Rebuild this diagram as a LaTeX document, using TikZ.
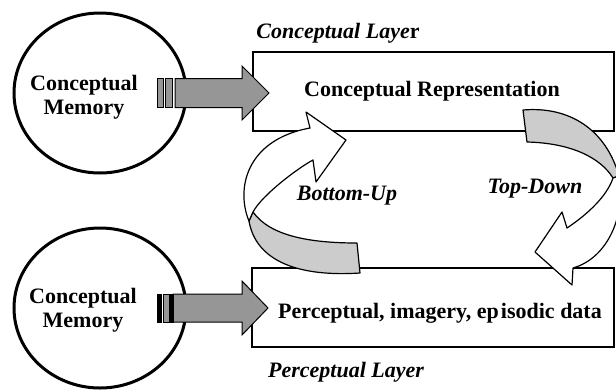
\documentclass[tikz,border=0pt]{standalone}
\usepackage{fontspec}
\setmainfont{Liberation Serif}
\usetikzlibrary{shapes.geometric}
\definecolor{blockgray}{RGB}{150,150,150}
\definecolor{ribbongray}{RGB}{204,204,204}
\tikzset{
  memory/.style={ellipse, draw, line width=3pt, minimum width=172pt, minimum height=160pt, inner sep=0pt},
  layerbox/.style={rectangle, draw, line width=2pt, inner sep=0pt},
  boldtext/.style={font=\fontsize{22}{24}\selectfont\bfseries, align=center, inner sep=0pt},
  italtext/.style={font=\fontsize{22}{24}\selectfont\bfseries\itshape, inner sep=0pt},
  blockbody/.style={draw, fill=blockgray, line width=1pt, line join=miter},
  blockbar/.style={draw, fill=black, line width=0.6pt},
  ribbonfront/.style={draw, fill=white, line width=1.2pt, line join=round},
  ribbonback/.style={draw, fill=ribbongray, line width=1.2pt, line join=round},
}
\begin{document}
\begin{tikzpicture}[x=1pt,y=-1pt]
\useasboundingbox (0,0) rectangle (616,389);

% layer boxes
\node[layerbox, minimum width=361pt, minimum height=79pt] (crep) at (433.5,91.5) {};
\node[layerbox, minimum width=362pt, minimum height=79pt] (pdata) at (433,307.5) {};

% memories
\node[memory] (cm1) at (100,93) {};
\node[memory] (cm2) at (100,308) {};

% block arrows from each memory into its layer
\coordinate (tipA) at (269,93);
\coordinate (tipB) at (268,308);
\begin{scope}[shift={(tipA)}]
  \draw[blockbody] (-94,-14.5) -- (-27,-14.5) -- (-27,-27) -- (0,0) -- (-27,27) -- (-27,14.5) -- (-94,14.5) -- cycle;
  \draw[blockbody] (-112,-14.5) rectangle (-106,14.5);
  \draw[blockbody] (-104,-14.5) rectangle (-97,14.5);
\end{scope}
\begin{scope}[shift={(tipB)}]
  \draw[blockbody] (-95,-14) -- (-26,-14) -- (-26,-27) -- (0,0) -- (-26,27) -- (-26,14) -- (-95,14) -- cycle;
  \draw[blockbar] (-111,-14) rectangle (-107,14);
  \draw[blockbody] (-105,-14) rectangle (-99,14);
  \draw[blockbar] (-99,-14) rectangle (-95,14);
\end{scope}

% bottom-up curled arrow
\draw[ribbonback] (253,212) .. controls (270,236) and (310,243) .. (357,243)
  -- (360,273) .. controls (300,277) and (256,262) .. (249,221) -- cycle;
\draw[ribbonfront] (249,221) .. controls (236,190) and (245,140) .. (310,128)
  -- (306,112) -- (346,140) -- (316,182) -- (313,160)
  .. controls (298,168) and (262,195) .. (253,212) -- cycle;

% top-down curled arrow
\draw[ribbonback] (523,110) .. controls (570,106) and (606,130) .. (619,176)
  -- (613,178) .. controls (600,157) and (570,143) .. (527,142) -- cycle;
\draw[ribbonfront] (619,176) .. controls (626,215) and (608,258) .. (573,268)
  -- (572,285) -- (535,252) -- (562,212) -- (567,228)
  .. controls (588,214) and (607,196) .. (613,178) -- cycle;

% texts
\node[boldtext] (cmtext1) at (84,97) {Conceptual\\Memory};
\node[boldtext] (cmtext2) at (83,310) {Conceptual\\Memory};
\node[boldtext] (creptext) at (432,91) {Conceptual Representation};
\node[boldtext] (pdatatext) at (440,313) {Perceptual, imagery, ep\kern2pt isodic data};
\node[italtext] (clayer) at (338,33) {Conceptual Laye{\upshape r}};
\node[italtext] (player) at (346,372) {Perceptual Layer};
\node[italtext] (bu) at (347,196) {Bottom-Up};
\node[italtext] (td) at (535,189) {Top-Down};
\end{tikzpicture}
\end{document}
